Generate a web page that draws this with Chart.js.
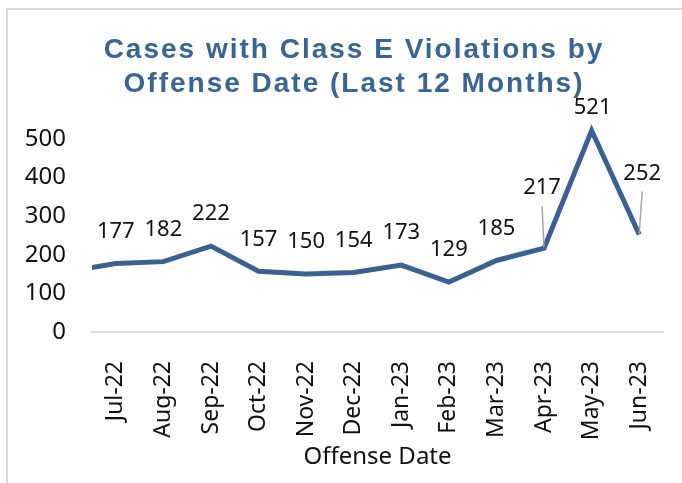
<!DOCTYPE html>
<html>
<head>
<meta charset="utf-8">
<script src="https://cdn.jsdelivr.net/npm/chart.js@4/dist/chart.umd.min.js"></script>
<style>
  html, body { margin: 0; padding: 0; background: #fff; }
  #wrap { width: 682px; height: 483px; position: relative; }
</style>
</head>
<body>
<div id="wrap"><canvas id="c" width="682" height="483"></canvas></div>
<script>
// Months shown on the axis (plus the prior month, whose point lies just left of the plot edge)
const priorMonth = 'Jun-22';
const categories = ['Jul-22','Aug-22','Sep-22','Oct-22','Nov-22','Dec-22','Jan-23','Feb-23','Mar-23','Apr-23','May-23','Jun-23'];
const priorValue = 157;            // estimated from the visible stub entering at the left edge
const cases = [177, 182, 222, 157, 150, 154, 173, 129, 185, 217, 521, 252];
const yTicks = [0, 100, 200, 300, 400, 500];
const titleLines = ['Cases with Class E Violations by', 'Offense Date (Last 12 Months)'];
const xTitle = 'Offense Date';

const allLabels = [priorMonth].concat(categories);
const allValues = [priorValue].concat(cases);

const lineColor = '#3a6191';
const titleColor = '#3b6496';
const textColor = '#111111';
const fontFamily = '"Noto Sans", "Open Sans", sans-serif';

// label nudges (styling only): index within categories -> {dx, dy, leader}
const labelNudges = {
  9: { dx: -2, dy: -60, leader: true },
  10: { dx: 1, dy: -23 },
  11: { dx: 3, dy: -61, leader: true }
};

const borderPlugin = {
  id: 'outerBorder',
  beforeDraw(chart) {
    const ctx = chart.ctx;
    ctx.save();
    ctx.fillStyle = '#ffffff';
    ctx.fillRect(0, 0, chart.width, chart.height);
    ctx.strokeStyle = '#d9d9d9';
    ctx.lineWidth = 2;
    ctx.strokeRect(7, 9, chart.width + 20, chart.height + 20);
    ctx.restore();
  }
};

const titlePlugin = {
  id: 'bigTitle',
  afterDraw(chart) {
    const ctx = chart.ctx;
    ctx.save();
    ctx.font = 'bold 28px "Liberation Sans", Arial, sans-serif';
    ctx.fillStyle = titleColor;
    ctx.textBaseline = 'alphabetic';
    ctx.textAlign = 'left';
    if ('letterSpacing' in ctx) ctx.letterSpacing = '2px';
    const cx = 354;
    const baselines = [58, 92];
    titleLines.forEach((t, i) => {
      const w = ctx.measureText(t).width;
      ctx.fillText(t, cx - w / 2, baselines[i]);
    });
    ctx.restore();
  }
};

const dataLabelPlugin = {
  id: 'dataLabels',
  afterDatasetsDraw(chart) {
    const ctx = chart.ctx;
    const meta = chart.getDatasetMeta(0);
    ctx.save();
    ctx.font = '22px ' + fontFamily;
    ctx.fillStyle = textColor;
    ctx.textAlign = 'center';
    ctx.textBaseline = 'middle';
    meta.data.forEach((pt, i) => {
      if (i === 0) return; // prior month is off-plot
      const ci = i - 1;
      const n = labelNudges[ci] || { dx: 0, dy: -32 };
      const lx = pt.x + n.dx, ly = pt.y + n.dy;
      if (n.leader) {
        ctx.strokeStyle = '#a6a6a6';
        ctx.lineWidth = 1.5;
        ctx.beginPath();
        ctx.moveTo(lx, ly + 18);
        ctx.lineTo(pt.x, pt.y - 1);
        ctx.stroke();
      }
      ctx.fillText(String(cases[ci]), lx, ly);
    });
    ctx.restore();
  }
};

new Chart(document.getElementById('c'), {
  type: 'line',
  data: {
    labels: allLabels,
    datasets: [{
      data: allValues,
      borderColor: lineColor,
      borderWidth: 5,
      pointRadius: 0,
      pointHoverRadius: 0,
      tension: 0,
      fill: false,
      borderJoinStyle: 'miter',
      borderCapStyle: 'butt'
    }]
  },
  options: {
    responsive: false,
    animation: false,
    devicePixelRatio: 1,
    layout: { padding: { top: 100, left: 24, right: 19, bottom: 11 } },
    plugins: {
      legend: { display: false },
      tooltip: { enabled: false },
      title: { display: false }
    },
    scales: {
      x: {
        type: 'category',
        min: categories[0],
        offset: true,
        grid: { display: false, drawTicks: false },
        border: { display: true, color: '#d9d9d9', width: 2 },
        ticks: {
          color: textColor,
          font: { family: fontFamily, size: 23 },
          maxRotation: 90,
          minRotation: 90,
          autoSkip: false,
          padding: 29
        },
        afterFit(scale) {
          scale.height = 140;
          scale.paddingLeft = 0;
          scale.paddingRight = 0;
        },
        title: {
          display: true,
          text: xTitle,
          color: textColor,
          font: { family: fontFamily, size: 24 },
          padding: { top: 0, bottom: 0 }
        }
      },
      y: {
        min: 0,
        max: 600,
        grid: { display: false, drawTicks: false },
        border: { display: false },
        afterBuildTicks(scale) {
          scale.ticks = yTicks.map(v => ({ value: v }));
        },
        afterFit(scale) { scale.width = 68; },
        ticks: {
          color: textColor,
          font: { family: fontFamily, size: 24 },
          padding: 26
        }
      }
    }
  },
  plugins: [borderPlugin, dataLabelPlugin, titlePlugin]
});
</script>
</body>
</html>
